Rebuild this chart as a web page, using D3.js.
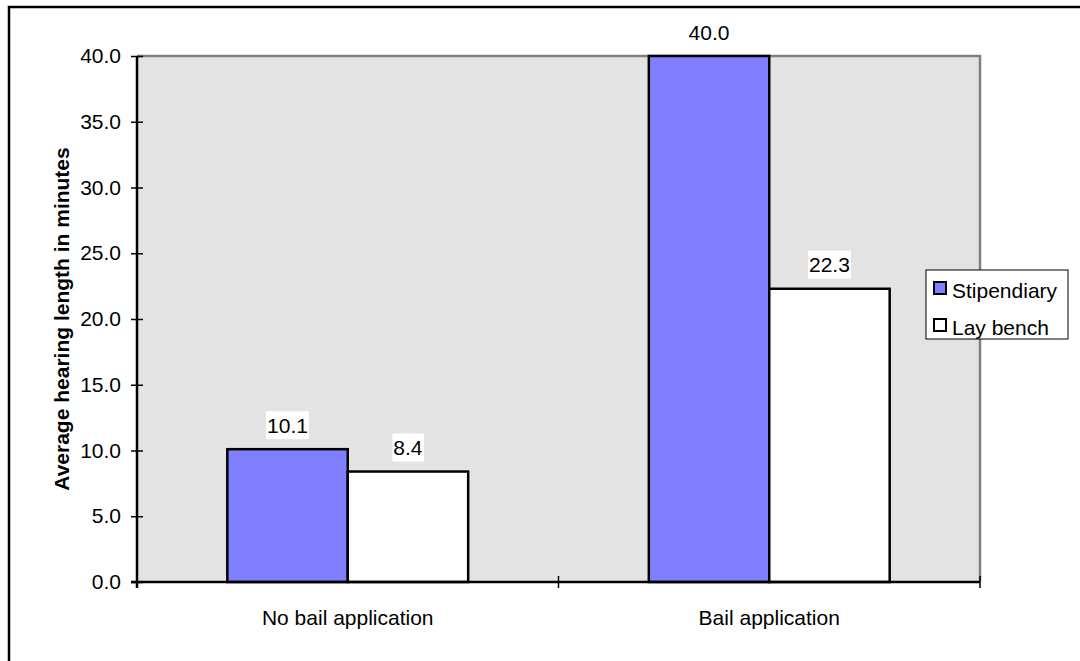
<!DOCTYPE html>
<html>
<head>
<meta charset="utf-8">
<script src="https://cdn.jsdelivr.net/npm/d3@7"></script>
<style>
  html, body { margin: 0; padding: 0; background: #fff; }
  svg { display: block; font-family: "Liberation Sans", Arial, sans-serif; }
</style>
</head>
<body>
<svg id="chart" width="1080" height="661"></svg>
<script>
// Hearing lengths by application type and bench type
const categories = ["No bail application", "Bail application"];
const seriesNames = ["Stipendiary", "Lay bench"];
const stipendiary = [10.1, 40.0];
const layBench = [8.4, 22.3];
const yTicks = [0, 5, 10, 15, 20, 25, 30, 35, 40];
const seriesColors = ["#8080FF", "#FFFFFF"];

const svg = d3.select("#chart");
const W = 1080, H = 661;
const plot = { left: 137, top: 56, right: 980, bottom: 582 };
const fontSize = 21;

// Outer frame (top and left edges)
svg.append("path")
  .attr("d", `M9,${H} V7 H${W}`)
  .attr("fill", "none").attr("stroke", "#000").attr("stroke-width", 2.5);

const x0 = d3.scaleBand().domain(categories).range([plot.left, plot.right]).paddingInner(0).paddingOuter(0);
const y = d3.scaleLinear().domain([0, 40]).range([plot.bottom, plot.top]);

// Plot area background with grey top/right border
svg.append("rect")
  .attr("x", plot.left).attr("y", plot.top)
  .attr("width", plot.right - plot.left).attr("height", plot.bottom - plot.top)
  .attr("fill", "#E3E3E3");
svg.append("path")
  .attr("d", `M${plot.left},${plot.top} H${plot.right} V${plot.bottom}`)
  .attr("fill", "none").attr("stroke", "#808080").attr("stroke-width", 2.5);

// Bars: each category holds two bars with 75% bar-width gaps on either side
const bw = x0.bandwidth() / 3.5;
const data = categories.map((c, i) => ({ cat: c, values: [stipendiary[i], layBench[i]] }));

const groups = svg.selectAll("g.grp").data(data).join("g").attr("class", "grp");
groups.each(function(d) {
  const g = d3.select(this);
  const start = x0(d.cat) + 0.75 * bw;
  d.values.forEach((v, j) => {
    const bx = start + j * bw;
    g.append("rect")
      .attr("x", bx).attr("y", y(v))
      .attr("width", bw).attr("height", y(0) - y(v))
      .attr("fill", seriesColors[j]).attr("stroke", "#000").attr("stroke-width", 2.5);
    // value label on a white backing box
    const cx = bx + bw / 2, cy = y(v) - 24;
    const label = v.toFixed(1);
    const t = g.append("text")
      .attr("x", cx).attr("y", cy)
      .attr("text-anchor", "middle").attr("dominant-baseline", "central")
      .attr("font-size", fontSize).attr("fill", "#000")
      .text(label);
    const bb = t.node().getBBox();
    g.insert("rect", function() { return t.node(); })
      .attr("x", bb.x - 1).attr("y", cy - 14)
      .attr("width", bb.width + 2).attr("height", 28)
      .attr("fill", "#fff");
  });
});

// Y axis
const yAxis = d3.axisLeft(y).tickValues(yTicks).tickFormat(d3.format(".1f"))
  .tickSizeInner(6).tickSizeOuter(0).tickPadding(10);
const gy = svg.append("g").attr("transform", `translate(${plot.left},0)`).call(yAxis);
gy.select(".domain").attr("stroke", "#000").attr("stroke-width", 2.5)
  .attr("d", `M0,${plot.top} V${plot.bottom + 6}`);
gy.selectAll(".tick line").attr("x1", -6).attr("x2", 6).attr("stroke", "#000").attr("stroke-width", 1.5);
gy.selectAll(".tick text").attr("font-size", fontSize).attr("fill", "#000")
  .attr("font-family", "Liberation Sans, Arial, sans-serif").attr("x", -16);

// X axis with crossing tick marks at category boundaries
svg.append("line")
  .attr("x1", plot.left - 6).attr("x2", plot.right)
  .attr("y1", plot.bottom).attr("y2", plot.bottom)
  .attr("stroke", "#000").attr("stroke-width", 2.5);
const boundaries = [plot.left, ...categories.slice(1).map(c => x0(c)), plot.right];
svg.selectAll("line.xtick").data(boundaries).join("line").attr("class", "xtick")
  .attr("x1", d => d).attr("x2", d => d)
  .attr("y1", plot.bottom - 6).attr("y2", plot.bottom + 6)
  .attr("stroke", "#000").attr("stroke-width", 1.5);
svg.selectAll("text.xlab").data(categories).join("text").attr("class", "xlab")
  .attr("x", d => x0(d) + x0.bandwidth() / 2).attr("y", 617)
  .attr("text-anchor", "middle").attr("dominant-baseline", "central")
  .attr("font-size", fontSize).text(d => d);

// Y axis title
svg.append("text")
  .attr("transform", `translate(61,${(plot.top + plot.bottom) / 2}) rotate(-90)`)
  .attr("text-anchor", "middle").attr("dominant-baseline", "central")
  .attr("font-size", fontSize).attr("font-weight", "bold")
  .text("Average hearing length in minutes");

// Legend
const lg = svg.append("g");
lg.append("rect").attr("x", 926).attr("y", 270).attr("width", 142).attr("height", 69)
  .attr("fill", "#fff").attr("stroke", "#000").attr("stroke-width", 1);
seriesNames.forEach((s, i) => {
  const ry = 282 + i * 37;
  lg.append("rect").attr("x", 934).attr("y", ry).attr("width", 12).attr("height", 12)
    .attr("fill", seriesColors[i]).attr("stroke", "#000").attr("stroke-width", 2);
  lg.append("text").attr("x", 952).attr("y", ry + 16)
    .attr("font-size", fontSize).text(s);
});
</script>
</body>
</html>
